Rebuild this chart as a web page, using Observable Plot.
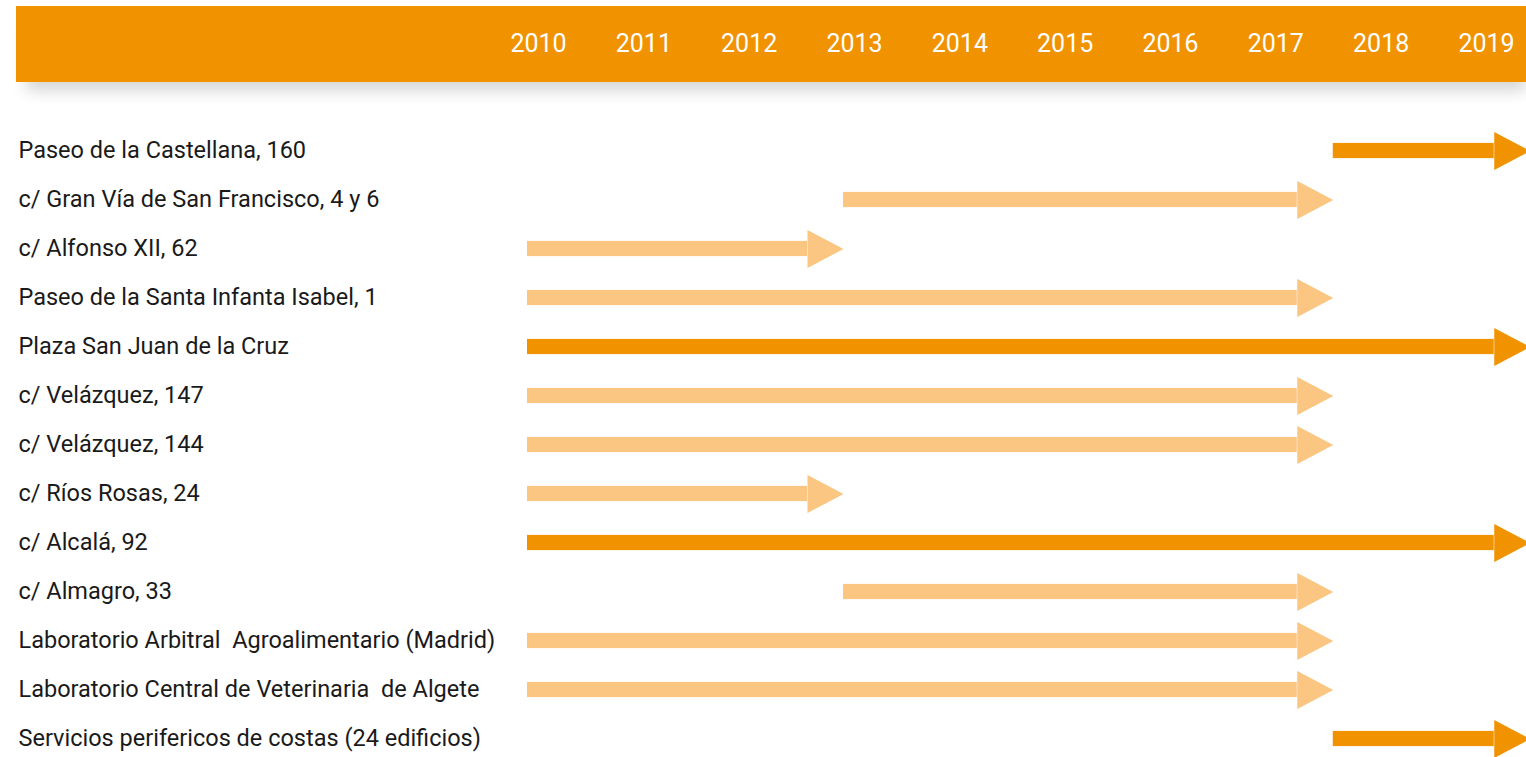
<!DOCTYPE html>
<html>
<head>
<meta charset="utf-8">
<script src="https://cdn.jsdelivr.net/npm/d3@7"></script>
<script src="https://cdn.jsdelivr.net/npm/@observablehq/plot@0.6"></script>
<style>
  html, body { margin: 0; padding: 0; background: #fff; }
  #wrap { position: relative; width: 1526px; height: 757px; overflow: hidden; }
  #header { position: absolute; left: 16px; top: 6px; width: 1510px; height: 76px; background: #F19200;
            box-shadow: 5px 14px 14px -5px rgba(0,0,0,0.16); }
  #chart { position: absolute; left: 0; top: 0; }
</style>
</head>
<body>
<div id="wrap">
  <div id="header"></div>
  <div id="chart"></div>
</div>
<script>
// Data
const names = [
  "Paseo de la Castellana, 160",
  "c/ Gran Vía de San Francisco, 4 y 6",
  "c/ Alfonso XII, 62",
  "Paseo de la Santa Infanta Isabel, 1",
  "Plaza San Juan de la Cruz",
  "c/ Velázquez, 147",
  "c/ Velázquez, 144",
  "c/ Ríos Rosas, 24",
  "c/ Alcalá, 92",
  "c/ Almagro, 33",
  "Laboratorio Arbitral  Agroalimentario (Madrid)",
  "Laboratorio Central de Veterinaria  de Algete",
  "Servicios perifericos de costas (24 edificios)"
];
const starts = [2017.65, 2013, 2010, 2010, 2010, 2010, 2010, 2010, 2010, 2013, 2010, 2010, 2017.65];
const ends   = [2019.52, 2017.65, 2013, 2017.65, 2019.52, 2017.65, 2017.65, 2013, 2019.52, 2017.65, 2017.65, 2017.65, 2019.52];
const status = ["vigente", "finalizado", "finalizado", "finalizado", "vigente", "finalizado", "finalizado",
                "finalizado", "vigente", "finalizado", "finalizado", "finalizado", "vigente"];
const years = [2010, 2011, 2012, 2013, 2014, 2015, 2016, 2017, 2018, 2019];
const statusDomain = ["vigente", "finalizado"];
const statusColors = ["#F19200", "#FBC582"];

const rows = names.map((name, i) => ({name, start: starts[i], end: ends[i], status: status[i]}));

// Filled arrowhead pointing right, tip at the data point
const arrowHead = {
  draw(ctx) {
    ctx.moveTo(0, 0);
    ctx.lineTo(-36, -19);
    ctx.lineTo(-36, 19);
    ctx.closePath();
  }
};

const chart = Plot.plot({
  width: 1526,
  height: 757,
  marginTop: 51,
  marginLeft: 18,
  marginRight: 0,
  marginBottom: 0,
  style: {fontFamily: "Roboto, sans-serif", background: "transparent", overflow: "hidden"},
  x: {domain: [2010, 2020], range: [527, 1580.3]},
  y: {type: "band", domain: names, range: [121.7, 766.5], padding: 0, axis: null},
  color: {domain: statusDomain, range: statusColors},
  marks: [
    Plot.axisX(years, {anchor: "top", tickSize: 0, tickPadding: 0, dx: 11, fontSize: 25,
                       color: "#fff", fill: "#fff", label: null, tickFormat: d => String(d)}),
    Plot.barX(rows, {x1: "start", x2: "end", y: "name", fill: "status",
                     insetTop: 16.9, insetBottom: 16.9, insetRight: 36}),
    Plot.dot(rows, {x: "end", y: "name", fill: "status", symbol: arrowHead, r: 5}),
    Plot.text(names, {y: d => d, frameAnchor: "left", textAnchor: "start", fontSize: 23.5, fill: "#1a1a1a", dy: -1})
  ]
});
document.getElementById("chart").appendChild(chart);
</script>
</body>
</html>
